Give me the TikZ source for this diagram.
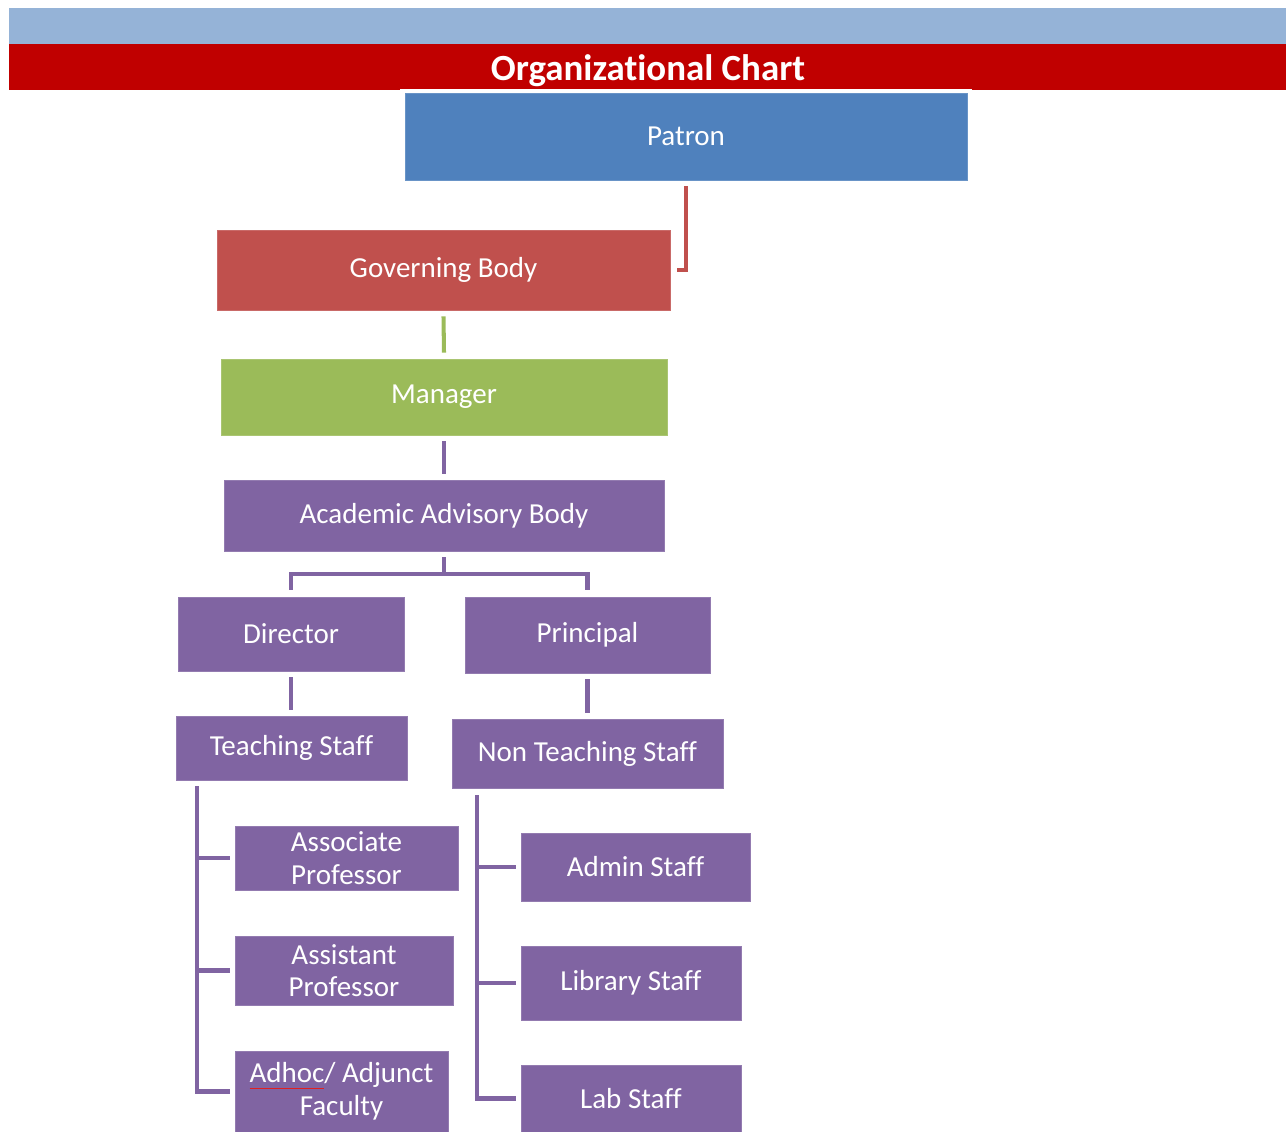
\documentclass[tikz,border=0pt]{standalone}
\usepackage{fontspec}
\setmainfont{Carlito}[Ligatures=NoCommon]
\definecolor{bandblue}{HTML}{95B3D7}
\definecolor{bandred}{HTML}{C00000}
\definecolor{patronblue}{HTML}{4F81BD}
\definecolor{govred}{HTML}{C0504D}
\definecolor{mgrgreen}{HTML}{9BBB59}
\definecolor{staffpurple}{HTML}{8064A2}
\definecolor{spellred}{HTML}{E02020}
\newcommand{\spellmark}[1]{\setbox0\hbox{#1}\rlap{\color{spellred}\rule[-3.5pt]{\wd0}{0.9pt}}\box0}

\begin{document}
\begin{tikzpicture}[x=0.02cm,y=-0.02cm,
 orgbox/.style={rectangle,fill=#1,draw=#1!85!white,line width=0.4pt,text=white,
  align=center,inner sep=0pt,font=\fontsize{16.5}{18.5}\selectfont},
 orgbox/.default=staffpurple,
 link/.style={draw=#1,line width=2.3pt},link/.default=staffpurple]
 \useasboundingbox (0,0) rectangle (1286,1132);
 % header bands
 \fill[bandblue] (9,8) rectangle (1286,44);
 \fill[bandred] (9,44) rectangle (1286,90);
 \draw[white,line width=1.5pt] (400,90) -- (972,90);
 \node[text=white,font=\fontsize{21}{24}\selectfont\bfseries] (title) at (648,71) {Organizational Chart};
 % boxes
 \node[orgbox=patronblue,minimum width=11.24cm,minimum height=1.74cm] (patron) at (686,136.5) {Patron};
 \node[orgbox=govred,minimum width=9.06cm,minimum height=1.6cm] (govbody) at (443.5,270) {Governing Body};
 \node[orgbox=mgrgreen,minimum width=8.92cm,minimum height=1.52cm] (manager) at (444,397) {Manager};
 \node[orgbox,minimum width=8.8cm,minimum height=1.42cm] (advisory) at (444,515.5) {Academic Advisory Body};
 \node[orgbox,minimum width=4.52cm,minimum height=1.48cm] (director) at (291,634) {Director};
 \node[orgbox,minimum width=4.9cm,minimum height=1.52cm] (principal) at (587.5,635) {Principal};
 \node[orgbox,minimum width=4.62cm,minimum height=1.28cm] (teaching) at (291.5,748) {Teaching Staff};
 \node[orgbox,minimum width=5.42cm,minimum height=1.38cm] (nonteaching) at (587.5,753.5) {Non Teaching Staff};
 \node[orgbox,minimum width=4.46cm,minimum height=1.28cm] (assoc) at (346.5,858) {Associate\\Professor};
 \node[orgbox,minimum width=4.36cm,minimum height=1.38cm] (assist) at (344,970.5) {Assistant\\Professor};
 \node[orgbox,minimum width=4.26cm,minimum height=1.62cm] (adhoc) at (341.5,1091.5) {\spellmark{Adhoc}/ Adjunct\\Faculty};
 \node[orgbox,minimum width=4.58cm,minimum height=1.36cm] (admin) at (635.5,867) {Admin Staff};
 \node[orgbox,minimum width=4.4cm,minimum height=1.48cm] (library) at (631,983) {Library Staff};
 \node[orgbox,minimum width=4.4cm,minimum height=1.34cm] (lab) at (631,1098.5) {Lab Staff};
 % connectors
 \draw[link=govred] ([yshift=-0.12cm]patron.south) |- ([xshift=0.14cm]govbody.east);
 \draw[link=mgrgreen] ([yshift=-0.12cm]govbody.south) -- ([yshift=0.12cm]manager.north);
 \draw[link] ([yshift=-0.12cm]manager.south) -- ([yshift=0.12cm]advisory.north);
 \coordinate (split) at (444,574);
 \draw[link] ([yshift=-0.12cm]advisory.south) -- (split);
 \draw[link] ([yshift=0.14cm]director.north) |- (split) -| ([yshift=0.14cm]principal.north);
 \draw[link] ([yshift=-0.12cm]director.south) -- ([yshift=0.12cm]director.south |- teaching.north);
 \draw[link] ([yshift=-0.12cm]principal.south) -- ([yshift=0.12cm]principal.south |- nonteaching.north);
 \coordinate (tbar) at ([xshift=0.42cm,yshift=-0.12cm]teaching.south west);
 \coordinate (nbar) at ([xshift=0.5cm,yshift=-0.14cm]nonteaching.south west);
 \draw[link] (tbar) |- ([xshift=-0.1cm]adhoc.west);
 \draw[link] (nbar) |- ([xshift=-0.1cm]lab.west);
 \foreach \n in {assoc,assist}
  \draw[link] (tbar |- \n.west) -- ([xshift=-0.1cm]\n.west);
 \foreach \n in {admin,library}
  \draw[link] (nbar |- \n.west) -- ([xshift=-0.1cm]\n.west);
\end{tikzpicture}
\end{document}
